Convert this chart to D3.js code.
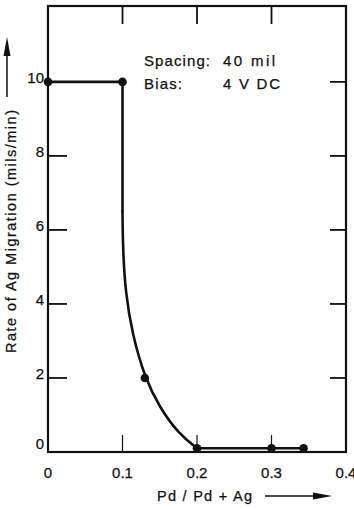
<!DOCTYPE html>
<html>
<head>
<meta charset="utf-8">
<script src="https://cdn.jsdelivr.net/npm/d3@7"></script>
<style>
  body { margin: 0; background: #fff; }
  text { font-family: "Liberation Sans", Arial, sans-serif; fill: #111; stroke: #111; stroke-width: 0.25; }
</style>
</head>
<body>
<svg id="chart"></svg>
<script>
// Data
var markX = [0, 0.1, 0.13, 0.2, 0.3, 0.343],      // measured points
    markY = [10, 10, 2, 0.1, 0.1, 0.1];
// drawn line: straight top, bent drop, flat tail
var stepX = [0, 0.1, 0.1],
    stepY = [10, 10, 6.5];
var bendX = [0.1, 0.1005, 0.104, 0.113, 0.13, 0.15, 0.175, 0.2],
    bendY = [6.5, 5.5, 4.3, 3.2, 2, 1.2, 0.5, 0.1];
var tailX = [0.2, 0.3, 0.343],
    tailY = [0.1, 0.1, 0.1];
var xTicks = [0, 0.1, 0.2, 0.3, 0.4],
    xTickLabels = ["0", "0.1", "0.2", "0.3", "0.4"];
var yTicks = [0, 2, 4, 6, 8, 10],
    yTickLabels = ["0", "2", "4", "6", "8", "10"];
var notes = [["Spacing:", "40 mil"], ["Bias:", "4 V DC"]];

var w = 354, h = 509,
    mLeft = 48, mRight = 346, mTop = 6, mBottom = 452;

var svg = d3.select("#chart").attr("width", w).attr("height", h);

var x = d3.scaleLinear().domain([0, 0.4]).range([mLeft, mRight]);
var y = d3.scaleLinear().domain([0, 12.05]).range([mBottom, mTop]);

// frame
svg.append("rect")
    .attr("x", mLeft).attr("y", mTop)
    .attr("width", mRight - mLeft).attr("height", mBottom - mTop)
    .attr("fill", "none").attr("stroke", "#111").attr("stroke-width", 2.2);

// inner ticks
var tickG = svg.append("g").attr("stroke", "#111");
[2, 4, 6, 8].forEach(function (v) {
    tickG.append("line").attr("x1", mLeft).attr("x2", mLeft + 19)
        .attr("y1", y(v)).attr("y2", y(v)).attr("stroke-width", 1.8);
});
[2, 4, 6, 8, 10].forEach(function (v) {
    tickG.append("line").attr("x1", mRight).attr("x2", mRight - 16)
        .attr("y1", y(v)).attr("y2", y(v)).attr("stroke-width", 1.8);
});
[0.1, 0.2, 0.3].forEach(function (v) {
    tickG.append("line").attr("x1", x(v)).attr("x2", x(v))
        .attr("y1", mTop).attr("y2", mTop + 18).attr("stroke-width", 1.8);
    tickG.append("line").attr("x1", x(v)).attr("x2", x(v))
        .attr("y1", mBottom).attr("y2", mBottom - 17).attr("stroke-width", 1.2);
});

// tick labels
svg.append("g").selectAll("text").data(yTicks).enter().append("text")
    .attr("x", mLeft - 4)
    .attr("y", function (d) { return d === 0 ? y(d) - 3 : y(d) + 1; })
    .attr("text-anchor", "end")
    .attr("font-size", 15)
    .text(function (d, i) { return yTickLabels[i]; });

svg.append("g").selectAll("text").data(xTicks).enter().append("text")
    .attr("x", function (d) { return x(d); })
    .attr("y", 478)
    .attr("text-anchor", "middle")
    .attr("font-size", 15)
    .text(function (d, i) { return xTickLabels[i]; });

// curve
function zip(xs, ys) { return xs.map(function (v, i) { return [v, ys[i]]; }); }
var lineStraight = d3.line()
    .x(function (d) { return x(d[0]); })
    .y(function (d) { return y(d[1]); });
var lineBend = d3.line()
    .x(function (d) { return x(d[0]); })
    .y(function (d) { return y(d[1]); })
    .curve(d3.curveBasis);

var curveG = svg.append("g")
    .attr("fill", "none").attr("stroke", "#111").attr("stroke-width", 2.6)
    .attr("stroke-linejoin", "round").attr("stroke-linecap", "round");
curveG.append("path").attr("d", lineStraight(zip(stepX, stepY)));
curveG.append("path").attr("d", lineBend(zip(bendX, bendY)));
curveG.append("path").attr("d", lineStraight(zip(tailX, tailY)));

svg.append("g").selectAll("circle").data(markX).enter().append("circle")
    .attr("cx", function (d) { return x(d); })
    .attr("cy", function (d, i) { return y(markY[i]); })
    .attr("r", 4.3).attr("fill", "#111");

// annotation
var noteW = [[66, 52], [38, 57]];
notes.forEach(function (n, i) {
    svg.append("text").attr("x", 144).attr("y", 66 + i * 23)
        .attr("font-size", 15).attr("textLength", noteW[i][0])
        .attr("lengthAdjust", "spacing").text(n[0]);
    svg.append("text").attr("x", 223).attr("y", 66 + i * 23)
        .attr("font-size", 15).attr("textLength", noteW[i][1])
        .attr("lengthAdjust", "spacing").text(n[1]);
});

// axis titles with arrows
svg.append("text")
    .attr("transform", "translate(16,353) rotate(-90)")
    .attr("font-size", 14.5)
    .attr("textLength", 243).attr("lengthAdjust", "spacing")
    .text("Rate of Ag Migration (mils/min)");
svg.append("line").attr("x1", 7).attr("x2", 7).attr("y1", 97).attr("y2", 52)
    .attr("stroke", "#111").attr("stroke-width", 1.5);
svg.append("path").attr("d", "M7,37 L3.5,56 L10.5,56 Z").attr("fill", "#111");

svg.append("text")
    .attr("x", 157).attr("y", 501)
    .attr("font-size", 14.5)
    .attr("textLength", 95).attr("lengthAdjust", "spacing")
    .text("Pd / Pd + Ag");
svg.append("line").attr("x1", 265).attr("x2", 316).attr("y1", 496).attr("y2", 496)
    .attr("stroke", "#111").attr("stroke-width", 1.5);
svg.append("path").attr("d", "M332,496 L313,492.5 L313,499.5 Z").attr("fill", "#111");
</script>
</body>
</html>
